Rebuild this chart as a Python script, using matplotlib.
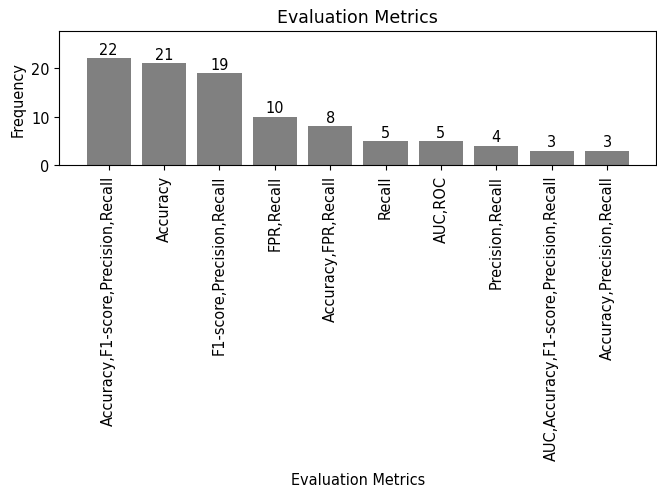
import matplotlib
matplotlib.use("Agg")
import matplotlib.pyplot as plt

# metric combinations and how often they show up
metrics = ["Accuracy,F1-score,Precision,Recall", "Accuracy", "F1-score,Precision,Recall",
           "FPR,Recall", "Accuracy,FPR,Recall", "Recall", "AUC,ROC", "Precision,Recall",
           "AUC,Accuracy,F1-score,Precision,Recall", "Accuracy,Precision,Recall"]
counts = [22, 21, 19, 10, 8, 5, 5, 4, 3, 3]

fs = 10.45


def main():
    fig, ax = plt.subplots(figsize=(6.57, 4.89), dpi=100)
    bars = ax.bar(metrics, counts, color="gray")
    ax.bar_label(bars, fontsize=fs, padding=1)
    ax.set_ylim(0, 27.6)
    ax.set_title("Evaluation Metrics", fontsize=12.5, pad=6.5)
    ax.set_xlabel("Evaluation Metrics", fontsize=fs, labelpad=8)
    ax.set_ylabel("Frequency", fontsize=fs)
    ax.tick_params(axis="x", labelrotation=90, labelsize=fs)
    ax.tick_params(axis="y", labelsize=fs)
    fig.subplots_adjust(left=0.0905, right=0.999, top=0.934, bottom=0.66)
    fig.savefig("out.png")


main()
